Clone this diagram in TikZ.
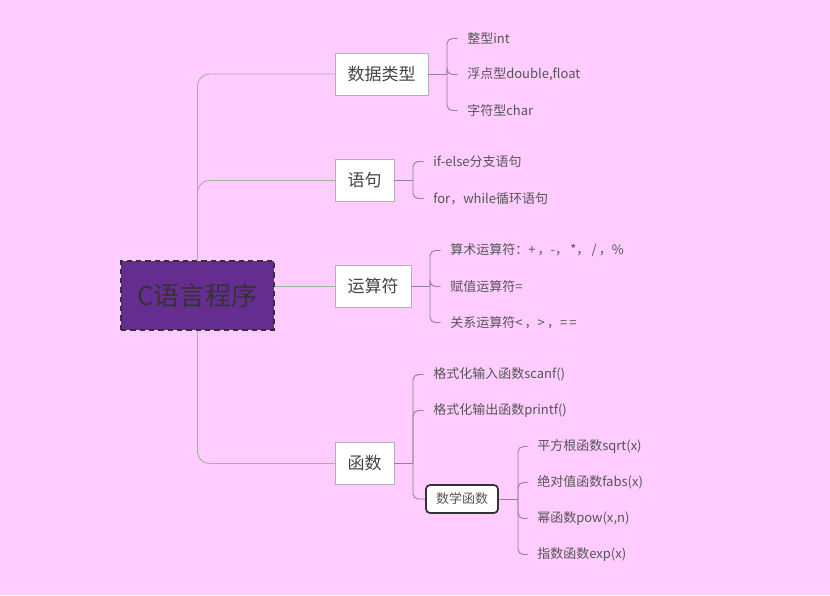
\documentclass[tikz,border=0pt]{standalone}
\usepackage{fontspec}
\setmainfont{Noto Sans CJK SC}
\usetikzlibrary{positioning,calc}
\definecolor{bgpink}{HTML}{FFCCFF}
\definecolor{rootpurple}{HTML}{662D91}
\definecolor{trunkgray}{HTML}{A3B1A3}
\definecolor{branchgray}{HTML}{8F8490}
\definecolor{textgray}{HTML}{555555}

\tikzset{
  topic/.style={draw=black!30,fill=white,line width=0.6pt,minimum height=31.5pt,
    inner xsep=9.4pt,font=\fontsize{12.75}{14}\selectfont,text=textgray!80!black},
  leaf/.style={anchor=west,inner sep=0pt,font=\fontsize{9.75}{11}\selectfont,text=textgray},
  subtopic/.style={draw=black!80,fill=white,line width=1.3pt,rounded corners=3pt,
    minimum height=21pt,inner xsep=7.5pt,font=\fontsize{9.75}{11}\selectfont,text=textgray},
  trunk/.style={draw=trunkgray,line width=0.7pt,rounded corners=9pt},
  branch/.style={draw=branchgray,line width=0.7pt,rounded corners=4pt}
}

\begin{document}
\begin{tikzpicture}[x=0.75pt,y=-0.75pt]
        \fill[bgpink] (0,0) rectangle (830,595);
        \useasboundingbox (0,0) rectangle (830,595);

        % root
        \node[draw=black!80,dash pattern=on 4pt off 3pt,line width=1.4pt,fill=rootpurple,minimum width=114.75pt,
          minimum height=51.75pt,font=\fontsize{19.5}{22}\selectfont,text=black!80] (root) at (197.5,295.5) {C语言程序};

        % main topics
        \node[topic] (type) at (381.5,74) {数据类型};
        \node[topic] (stmt) at (364.5,180.5) {语句};
        \node[topic] (oper) at (373,286) {运算符};
        \node[topic] (func) at (364.5,463.5) {函数};

        \draw[trunk] (root.north) |- (type.west);
        \draw[trunk] (root.north) |- (stmt.west);
        \draw[trunk] (root.east |- oper.west) -- (oper.west);
        \draw[trunk] (root.south) |- (func.west);

        % data types
        \node[leaf] (tint) at (467,38.5) {整型int};
        \node[leaf] (tdbl) at (467,74.5) {浮点型double,float};
        \node[leaf] (tchr) at (467,110.5) {字符型char};
        \coordinate (typej) at (447,74);
        \draw[branch] (type.east) -- (typej);
        \foreach \c in {tint,tdbl,tchr}
          \draw[branch] (typej) |- ([xshift=-7]\c.west);

        % statements
        \node[leaf] (sif) at (433,161.5) {if-else分支语句};
        \node[leaf] (sfor) at (433,198.5) {for，while循环语句};
        \coordinate (stmtj) at (413,180.5);
        \draw[branch] (stmt.east) -- (stmtj);
        \foreach \c in {sif,sfor}
          \draw[branch] (stmtj) |- ([xshift=-7]\c.west);

        % operators
        \node[leaf] (oarith) at (450,250.5) {算术运算符：+\,，-，\,*，\,/\,，\%};
        \node[leaf] (oasgn) at (450,286.5) {赋值运算符=};
        \node[leaf] (orel) at (450,322.5) {关系运算符<\,，>\,，=\,=};
        \coordinate (operj) at (430,286);
        \draw[branch] (oper.east) -- (operj);
        \foreach \c in {oarith,oasgn,orel}
          \draw[branch] (operj) |- ([xshift=-7]\c.west);

        % functions
        \node[leaf] (fin) at (433,374.5) {格式化输入函数scanf()};
        \node[leaf] (fout) at (433,410.5) {格式化输出函数printf()};
        \node[subtopic] (math) at (462,499) {数学函数};
        \coordinate (funcj) at (413,463.5);
        \draw[branch] (func.east) -- (funcj);
        \foreach \c in {fin,fout}
          \draw[branch] (funcj) |- ([xshift=-7]\c.west);
        \draw[branch] (funcj) |- (math.west);

        % math functions
        \node[leaf] (msqrt) at (537,446.5) {平方根函数sqrt(x)};
        \node[leaf] (mfabs) at (537,482.5) {绝对值函数fabs(x)};
        \node[leaf] (mpow) at (537,518.5) {幂函数pow(x,n)};
        \node[leaf] (mexp) at (537,554.5) {指数函数exp(x)};
        \coordinate (mathj) at (518,499);
        \draw[branch] (math.east) -- (mathj);
        \foreach \c in {msqrt,mfabs,mpow,mexp}
          \draw[branch] (mathj) |- ([xshift=-7]\c.west);
      \end{tikzpicture}
\end{document}
